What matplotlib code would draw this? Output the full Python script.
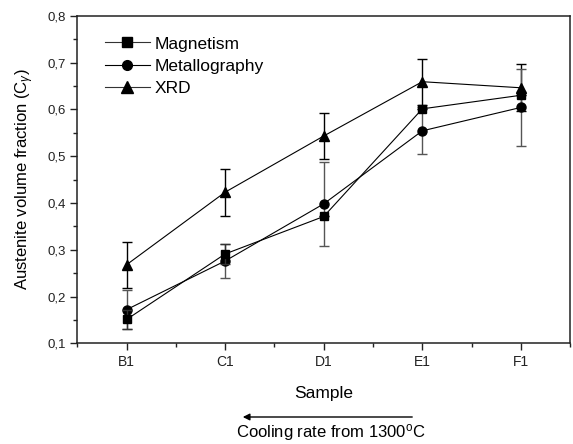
import numpy as np
import matplotlib
matplotlib.use('Agg')
import matplotlib.pyplot as plt
from matplotlib.lines import Line2D
from matplotlib.patches import FancyArrowPatch
from matplotlib.ticker import MultipleLocator, FuncFormatter

plt.rcParams['font.family'] = ['Liberation Sans', 'DejaVu Sans']
plt.rcParams['mathtext.fontset'] = 'custom'
plt.rcParams['mathtext.rm'] = 'Liberation Sans'
plt.rcParams['mathtext.it'] = 'Liberation Sans:italic'

samples = ['B1', 'C1', 'D1', 'E1', 'F1']

# austenite fraction per method
magnetism = [0.151, 0.291, 0.371, 0.601, 0.630]
magnetism_err = [0.020, 0.022, 0.000, 0.000, 0.000]
metallography = [0.172, 0.276, 0.398, 0.554, 0.604]
metallography_err = [0.042, 0.036, 0.090, 0.050, 0.082]
xrd = [0.268, 0.423, 0.543, 0.659, 0.646]
xrd_err = [0.049, 0.050, 0.050, 0.049, 0.050]

x = np.arange(1, len(samples) + 1)

fig = plt.figure(figsize=(5.73, 4.44), dpi=100)
ax = fig.add_axes([0.135, 0.2268, 0.86, 0.7378])

ax.errorbar(x, xrd, yerr=xrd_err, color='black', marker='^', ms=7.5,
            lw=0.8, elinewidth=1.0, capsize=3.5, capthick=1.0, zorder=3)
ax.errorbar(x, metallography, yerr=metallography_err, color='black', ecolor='#555555',
            marker='o', ms=6.5, lw=0.8, elinewidth=1.0, capsize=3.5, capthick=1.0, zorder=3)
ax.errorbar(x, magnetism, yerr=magnetism_err, color='black', ecolor='#333333',
            marker='s', ms=5.5, lw=0.8, elinewidth=1.0, capsize=3.5, capthick=1.0, zorder=4)

ax.set_xlim(0.5, 5.5)
ax.set_ylim(0.1, 0.8)
ax.set_xticks(x)
ax.set_xticklabels(samples, fontsize=10)
ax.xaxis.set_minor_locator(MultipleLocator(0.5))
ax.yaxis.set_major_locator(MultipleLocator(0.1))
ax.yaxis.set_minor_locator(MultipleLocator(0.05))
ax.yaxis.set_major_formatter(FuncFormatter(lambda v, p: f'{v:.1f}'.replace('.', ',')))
ax.tick_params(axis='y', labelsize=9.5)
ax.tick_params(which='major', direction='out', length=5, width=1, colors='#222222')
ax.tick_params(which='minor', direction='out', length=3, width=1, colors='#222222')
for s in ax.spines.values():
    s.set_linewidth(1.1)
    s.set_color('#222222')

ax.set_xlabel('Sample', fontsize=12.5, labelpad=12)
ax.set_ylabel('Austenite volume fraction (C$_{\\gamma}$)', fontsize=12, labelpad=8)

handles = [
    Line2D([], [], color='#333333', lw=0.8, marker='s', ms=6.5, mfc='black', mec='black'),
    Line2D([], [], color='black', lw=0.8, marker='o', ms=7, mfc='black', mec='black'),
    Line2D([], [], color='#333333', lw=0.8, marker='^', ms=8, mfc='black', mec='black'),
]
ax.legend(handles, ['Magnetism', 'Metallography', 'XRD'], loc='upper left', frameon=False,
          fontsize=12.5, handlelength=2.6, labelspacing=0.42,
          bbox_to_anchor=(0.02, 0.99), borderaxespad=0.6, handletextpad=0.3)

# cooling-rate arrow under the axis
fig.patches.append(FancyArrowPatch(
    (415 / 573, 1 - 417 / 444), (240 / 573, 1 - 417 / 444), transform=fig.transFigure,
    arrowstyle='-|>', mutation_scale=10, lw=1.0, color='black'))
fig.text(331 / 573, 1 - 432 / 444, 'Cooling rate from 1300$^{\\mathregular{o}}$C',
         ha='center', va='center', fontsize=12)

fig.savefig('out.png', dpi=100)
